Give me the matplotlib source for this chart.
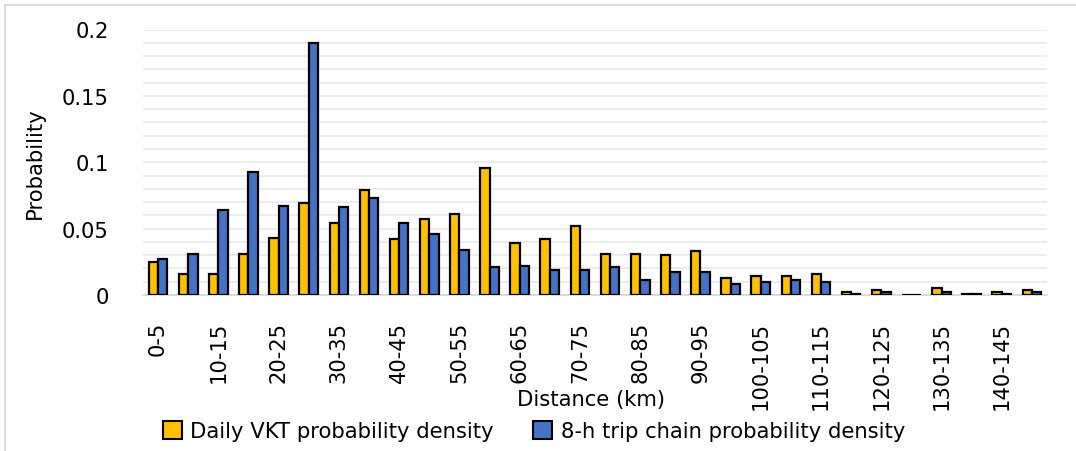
import numpy as np
import matplotlib
matplotlib.use("Agg")
import matplotlib.pyplot as plt
from matplotlib.patches import Patch
from matplotlib.lines import Line2D

plt.rcParams['font.family'] = ['DejaVu Sans']

# Distance bins (km)
bins = [f"{a}-{a + 5}" for a in range(0, 150, 5)]

daily_vkt = [0.025, 0.016, 0.016, 0.031, 0.043, 0.069, 0.054, 0.079, 0.042, 0.057,
             0.061, 0.096, 0.039, 0.042, 0.052, 0.031, 0.031, 0.030, 0.033, 0.013,
             0.0145, 0.0145, 0.016, 0.0025, 0.004, 0.0, 0.0055, 0.001, 0.0025, 0.004]
trip_chain = [0.027, 0.031, 0.064, 0.093, 0.067, 0.190, 0.066, 0.073, 0.054, 0.046,
              0.034, 0.021, 0.022, 0.019, 0.019, 0.021, 0.0115, 0.0175, 0.0175, 0.0085,
              0.010, 0.0115, 0.010, 0.001, 0.0025, 0.0, 0.0025, 0.001, 0.001, 0.002]

yellow = "#FFC000"
blue = "#4472C4"
fs = 15.2

W, H = 1076, 452
fig = plt.figure(figsize=(W / 100, H / 100), dpi=100)
ax = fig.add_axes([143 / W, 1 - 296 / H, (1047 - 143) / W, (296 - 30.5) / H])

x = np.arange(len(bins))
bw = 0.31
ax.bar(x - bw / 2, daily_vkt, bw, color=yellow, edgecolor="black", linewidth=1.6, zorder=3)
ax.bar(x + bw / 2, trip_chain, bw, color=blue, edgecolor="black", linewidth=1.6, zorder=3)

ax.set_xlim(-0.5, len(bins) - 0.5)
ax.set_ylim(0, 0.2)
ax.set_yticks([0, 0.05, 0.1, 0.15, 0.2])
ax.set_yticklabels(["0", "0.05", "0.1", "0.15", "0.2"])
ax.set_yticks(np.arange(0, 0.2001, 0.01), minor=True)
ax.yaxis.grid(True, which="both", color="#ebebeb", linewidth=1.3, zorder=0)
ax.set_axisbelow(True)

ax.set_xticks(x[::2])
ax.set_xticklabels(bins[::2], rotation=90, va="top", ha="center")
ax.tick_params(axis="x", length=0, pad=18.5, labelsize=fs)
ax.tick_params(axis="y", which="both", length=0, pad=24.5, labelsize=fs)

for side in ["top", "right", "left"]:
    ax.spines[side].set_visible(False)
ax.spines["bottom"].set_color("#d9d9d9")
ax.spines["bottom"].set_linewidth(1.3)

fig.text(35 / W, 1 - 163 / H, "Probability", rotation=90, ha="center", va="center", fontsize=fs)
fig.text(591 / W, 1 - 400 / H, "Distance (km)", ha="center", va="center", fontsize=fs)

handles = [Patch(facecolor=yellow, edgecolor="black", linewidth=1.5),
           Patch(facecolor=blue, edgecolor="black", linewidth=1.5)]
fig.legend(handles, ["Daily VKT probability density", "8-h trip chain probability density"],
           loc="center", bbox_to_anchor=(534 / W, 1 - 432 / H), ncol=2, frameon=False,
           fontsize=fs, handlelength=0.9, handleheight=0.9, handletextpad=0.4,
           columnspacing=1.85)

# chart area border
fig.add_artist(Line2D([5 / W, 5 / W], [0, 1 - 6 / H], color="#d9d9d9", linewidth=1.3))
fig.add_artist(Line2D([5 / W, 1], [1 - 6 / H, 1 - 6 / H], color="#d9d9d9", linewidth=1.3))

fig.savefig("out.png", dpi=100, facecolor="white")
